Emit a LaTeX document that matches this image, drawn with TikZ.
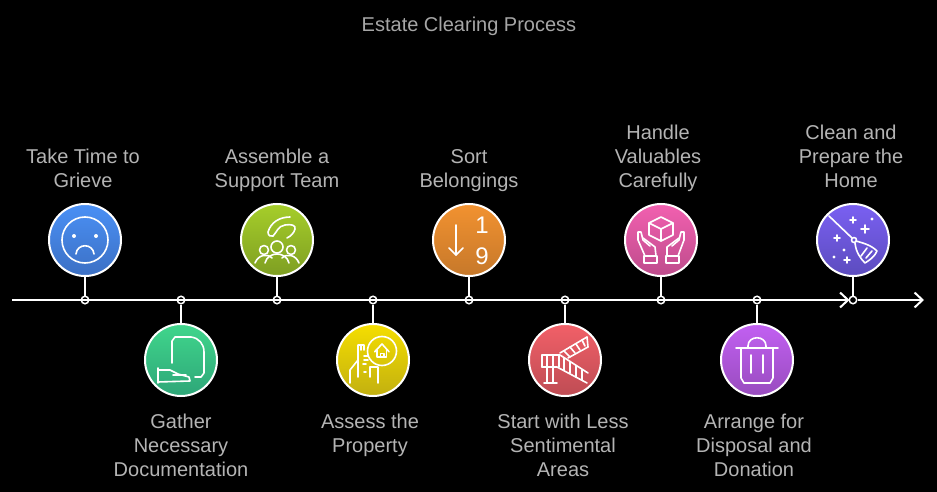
\documentclass[tikz,border=0pt]{standalone}
\usepackage{fontspec}
\setmainfont{Liberation Sans}
\usetikzlibrary{arrows.meta}
\definecolor{labgray}{HTML}{B4B4B4}
\definecolor{titlegray}{HTML}{A6A6A6}
\begin{document}
\begin{tikzpicture}
[x=1pt,y=-1pt,
 line width=2pt,
 >={Straight Barb[length=8pt,width=15pt,line width=2pt]},
 point/.style={draw=white,circle,fill=black,line width=1.5pt,minimum size=7.5pt,inner sep=0pt},
 badge/.style={draw=white,circle,line width=2pt,minimum size=72pt,inner sep=0pt},
 lab/.style={text=labgray,align=center,inner sep=0pt,font=\fontsize{20}{24}\selectfont},
 icon/.style={draw=white,line width=1.6pt,line cap=round,line join=round}]

% the background
\fill[black] (0,0) rectangle (937,492);
\useasboundingbox (0,0) rectangle (937,492);

% the coordinates of the badges
\coordinate (C1) at (85,240);
\coordinate (C2) at (181,360);
\coordinate (C3) at (277,240);
\coordinate (C4) at (373,360);
\coordinate (C5) at (469,240);
\coordinate (C6) at (565,360);
\coordinate (C7) at (661,240);
\coordinate (C8) at (757,360);
\coordinate (C9) at (853,240);
\coordinate (start) at (12,300);
\coordinate (stop) at (924,300);
\coordinate (inner) at (849.5,300);

% the points on the axis
\node[point] (P1) at (85,300) {};
\node[point] (P2) at (181,300) {};
\node[point] (P3) at (277,300) {};
\node[point] (P4) at (373,300) {};
\node[point] (P5) at (469,300) {};
\node[point] (P6) at (565,300) {};
\node[point] (P7) at (661,300) {};
\node[point] (P8) at (757,300) {};
\node[point] (P9) at (853,300) {};

% the badges
\node[badge,top color={rgb,255:red,74;green,144;blue,245},bottom color={rgb,255:red,60;green,112;blue,196}] (grieve) at (C1) {};
\node[badge,top color={rgb,255:red,64;green,214;blue,140},bottom color={rgb,255:red,46;green,166;blue,120}] (papers) at (C2) {};
\node[badge,top color={rgb,255:red,166;green,206;blue,42},bottom color={rgb,255:red,126;green,158;blue,34}] (team) at (C3) {};
\node[badge,top color={rgb,255:red,245;green,222;blue,0},bottom color={rgb,255:red,194;green,176;blue,16}] (assess) at (C4) {};
\node[badge,top color={rgb,255:red,242;green,146;blue,48},bottom color={rgb,255:red,198;green,120;blue,42}] (sort) at (C5) {};
\node[badge,top color={rgb,255:red,242;green,96;blue,104},bottom color={rgb,255:red,190;green,76;blue,84}] (stairs) at (C6) {};
\node[badge,top color={rgb,255:red,242;green,96;blue,176},bottom color={rgb,255:red,190;green,76;blue,140}] (valuables) at (C7) {};
\node[badge,top color={rgb,255:red,194;green,96;blue,242},bottom color={rgb,255:red,152;green,76;blue,190}] (trash) at (C8) {};
\node[badge,top color={rgb,255:red,122;green,96;blue,242},bottom color={rgb,255:red,92;green,76;blue,190}] (broom) at (C9) {};

% the stems
\draw[white] (grieve) -- (P1);
\draw[white] (papers) -- (P2);
\draw[white] (team) -- (P3);
\draw[white] (assess) -- (P4);
\draw[white] (sort) -- (P5);
\draw[white] (stairs) -- (P6);
\draw[white] (valuables) -- (P7);
\draw[white] (trash) -- (P8);
\draw[white] (broom) -- (P9);

% the axis
\draw[white,->] (start) -- (inner);
\draw[white,->] (P9) -- (stop);

% sad face
\begin{scope}[shift={(C1)}]
\draw[icon] (0,0) circle (23);
\fill[white] (-11,-4) circle (2);
\fill[white] (11,-4) circle (2);
\draw[icon] (-9,14) .. controls (-8,3) and (8,3) .. (9,14);
\end{scope}

% paper and hand
\begin{scope}[shift={(C2)}]
\draw[icon] (-9,3) -- (-9,-19) -- (-6,-23) -- (10,-23) .. controls (18,-22) and (23,-16) .. (23,-8) -- (23,13) -- (20,17) -- (14,17);
\draw[icon] (-23,8) -- (-23,23);
\draw[icon] (-23,10) -- (-11,10) -- (-3,14) -- (8,17) -- (9,21) -- (-23,22);
\draw[icon] (-8,15) -- (5,15);
\end{scope}

% people and swirl
\begin{scope}[shift={(C3)}]
\draw[icon] (0,7) circle (6);
\draw[icon] (-13,10) circle (4.5);
\draw[icon] (14,10) circle (4.5);
\draw[icon] (-22,23) .. controls (-19,15) and (-10,13) .. (-5,18);
\draw[icon] (-12,23) .. controls (-9,11) and (9,11) .. (12,23);
\draw[icon] (5,18) .. controls (10,13) and (19,15) .. (22,23);
\draw[icon] (13,-23) .. controls (3,-23) and (-6,-18) .. (-9,-8) .. controls (-9,-4) and (-6,-3) .. (-4,-4);
\draw[icon] (-4,-4) .. controls (0,-8) and (1,-14) .. (8,-15) .. controls (14,-16) and (19,-15) .. (18,-11) .. controls (17,-7) and (14,-4) .. (10,-2);
\end{scope}

% house and hand
\begin{scope}[shift={(C4)}]
\draw[icon] (9,-9) circle (14.5);
\draw[icon] (1.7,-8.3) -- (9,-16) -- (16,-8.3);
\draw[icon] (4,-10) -- (4,-3.3) -- (13.3,-3.3) -- (13.3,-10);
\draw[icon] (7.3,-3.3) -- (7.3,-6.7) -- (10.7,-6.7) -- (10.7,-3.3);
\draw[icon] (-23,23) -- (-23,10) -- (-15,0) -- (-15,-15) -- (-9,-15) -- (-9,-10);
\draw[icon] (-12,-15) -- (-12,-10);
\draw[icon] (-9,-4) -- (-5,-4);
\draw[icon] (-9,0) -- (-5,0);
\draw[icon] (-10,4) -- (-7,4);
\draw[icon] (-9,12) -- (-7,12);
\draw[icon] (-15,0) -- (-15,17);
\draw[icon] (-3,17) -- (-3,7) -- (5,7) -- (5,23);
\end{scope}

% arrow and digits
\begin{scope}[shift={(C5)}]
\draw[icon] (-13,-15) -- (-13,15);
\draw[icon] (-20,8) -- (-13,15) -- (-6,8);
\node[text=white,font=\fontsize{24}{24}\selectfont,inner sep=0pt] (one) at (13,-15) {1};
\node[text=white,font=\fontsize{24}{24}\selectfont,inner sep=0pt] (nine) at (13,16) {9};
\end{scope}

% stairs
\begin{scope}[shift={(C6)}]
\draw[icon] (-5,-7) -- (22,-23);
\draw[icon] (3,-2) -- (23,-13);
\draw[icon] (22,-23) -- (23,-13);
\draw[icon] (-1,-9) -- (5,-3);
\draw[icon] (5,-13) -- (10,-7);
\draw[icon] (11,-16) -- (15,-10);
\draw[icon] (17,-20) -- (20,-14);
\draw[icon] (-23,-5) -- (-5,-5) -- (23,13);
\draw[icon] (-23,7) -- (-8,7) -- (22,23);
\draw[icon] (-23,-5) -- (-23,7);
\draw[icon] (-18,-5) -- (-18,23);
\draw[icon] (-12,-5) -- (-12,23);
\draw[icon] (-21,23) -- (-8,23);
\draw[icon] (-6,-5) -- (-6,7);
\draw[icon] (-1,-2) -- (-1,10);
\draw[icon] (5,2) -- (5,13);
\draw[icon] (11,6) -- (11,17);
\draw[icon] (17,10) -- (17,20);
\end{scope}

% box and hands
\begin{scope}[shift={(C7)}]
\draw[icon] (0,-23) -- (12,-17) -- (12,-5) -- (0,1) -- (-12,-5) -- (-12,-17) -- cycle;
\draw[icon] (-12,-17) -- (0,-11) -- (12,-17);
\draw[icon] (0,-11) -- (0,1);
\draw[icon] (-17,16) rectangle (-4,23);
\draw[icon] (5,16) rectangle (18,23);
\draw[icon] (-16,16) -- (-23,0) -- (-23,-8) -- (-20,-8) -- (-18,0) -- (-11,6);
\draw[icon] (-18,-2) -- (-6,7) -- (-5,16);
\draw[icon] (17,16) -- (23,0) -- (23,-8) -- (20,-8) -- (18,0) -- (11,6);
\draw[icon] (18,-2) -- (6,7) -- (6,16);
\end{scope}

% trash can
\begin{scope}[shift={(C8)}]
\draw[icon] (-21,-12) -- (21,-12);
\draw[icon] (-9,-12) -- (-9,-14) .. controls (-9,-25) and (9,-25) .. (9,-14) -- (9,-12);
\draw[icon] (-16,-12) -- (-16,18) -- (-13,23) -- (13,23) -- (16,18) -- (16,-12);
\draw[icon] (-6,-5) -- (-6,13);
\draw[icon] (6,-5) -- (6,13);
\end{scope}

% broom and sparkles
\begin{scope}[shift={(C9)}]
\draw[icon] (-24,-24) -- (-1,-2);
\draw[icon] (1,0) circle (2.5);
\draw[icon] (3,1) .. controls (10,3) and (18,5) .. (24,11) .. controls (22,16) and (17,20) .. (12,23) .. controls (7,18) and (3,12) .. (2,3);
\draw[icon] (14,8) -- (8,16);
\draw[icon] (19,11) -- (13,18);
\draw[icon] (8,-11) -- (16,-11);
\draw[icon] (12,-15) -- (12,-7);
\draw[icon] (-3,-20) -- (3,-20);
\draw[icon] (0,-23) -- (0,-17);
\draw[icon] (-19,-2) -- (-13,-2);
\draw[icon] (-16,-5) -- (-16,1);
\draw[icon] (-9,20) -- (-3,20);
\draw[icon] (-6,17) -- (-6,23);
\fill[white] (19,-21) circle (1.6);
\fill[white] (-9,10) circle (1.6);
\fill[white] (-19,17) circle (1.6);
\end{scope}

% labelling the badges
\node[text=titlegray,inner sep=0pt,font=\fontsize{20}{24}\selectfont] (title) at (469,26.5) {Estate Clearing Process};
\node[lab,anchor=south] (T1) at (83,195.5) {Take Time to\\Grieve\strut};
\node[lab,anchor=north] (T2) at (181,411) {\strut Gather\\Necessary\\Documentation};
\node[lab,anchor=south] (T3) at (277,195.5) {Assemble a\\Support Team\strut};
\node[lab,anchor=north] (T4) at (370,411) {\strut Assess the\\Property};
\node[lab,anchor=south] (T5) at (469,195.5) {Sort\\Belongings\strut};
\node[lab,anchor=north] (T6) at (563,411) {\strut Start with Less\\Sentimental\\Areas};
\node[lab,anchor=south] (T7) at (658,195.5) {Handle\\Valuables\\Carefully\strut};
\node[lab,anchor=north] (T8) at (754,411) {\strut Arrange for\\Disposal and\\Donation};
\node[lab,anchor=south] (T9) at (851,195.5) {Clean and\\Prepare the\\Home\strut};

\end{tikzpicture}
\end{document}
